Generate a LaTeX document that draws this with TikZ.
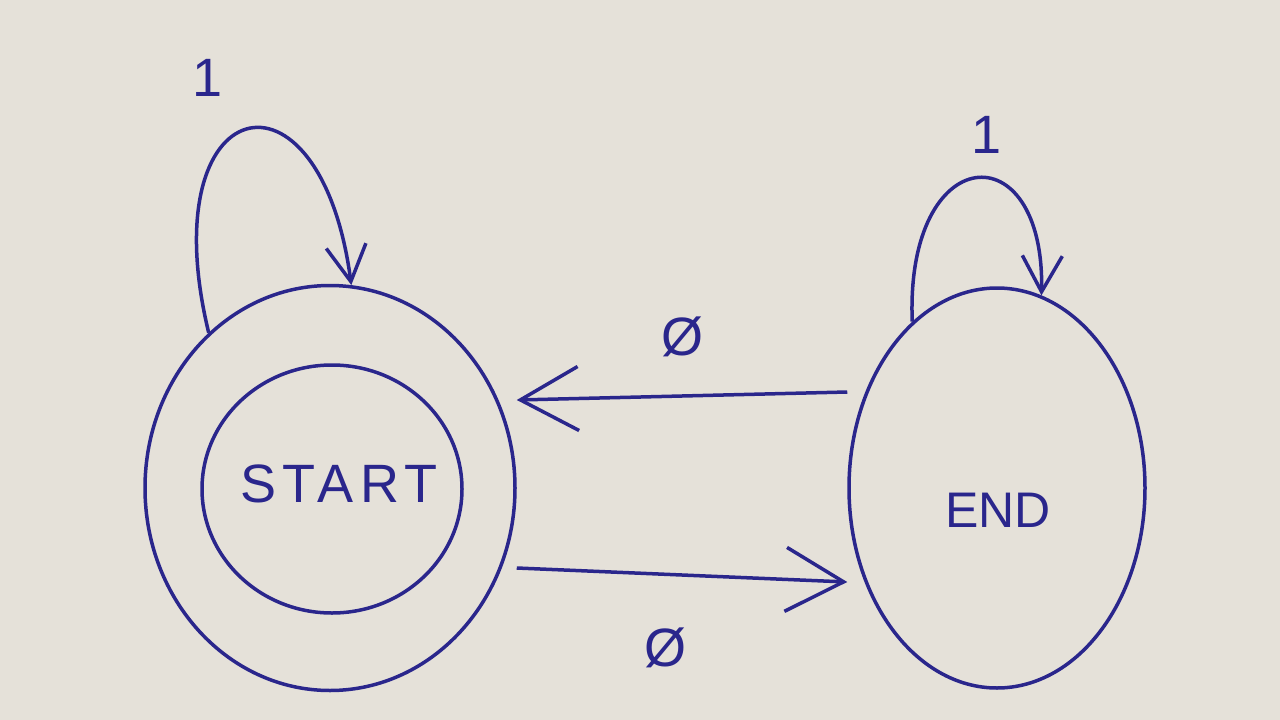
\documentclass[tikz,border=0pt]{standalone}
\usepackage{fontspec}
\setmainfont{Liberation Sans}
\usetikzlibrary{arrows.meta,shapes.geometric}
\definecolor{paper}{RGB}{229,225,217}
\definecolor{ink}{RGB}{42,38,140}
\tikzset{
  state/.style={draw=ink, line width=3.5pt, ellipse, inner sep=0pt},
  lbl/.style={text=ink, font=\fontsize{54}{58}\selectfont, inner sep=0pt},
  edge/.style={draw=ink, line width=3.5pt},
  bigtip/.style={-{Straight Barb[length=58pt,width=64pt,line width=3.5pt]}},
  looptip/.style={-{Straight Barb[length=36pt,width=40pt,line width=3.5pt]}}
}
\begin{document}
\begin{tikzpicture}[x=1pt,y=-1pt]
\fill[paper] (0,0) rectangle (1280,720);
\useasboundingbox (0,0) rectangle (1280,720);
% states
\node[state, minimum width=370pt, minimum height=405pt] (startout) at (330,488) {};
\node[state, minimum width=260pt, minimum height=248pt] (startin) at (332,489) {};
\node[lbl] (starttxt) at (339,484) {\addfontfeatures{LetterSpace=12}START};
\node[state, minimum width=296pt, minimum height=400pt] (endn) at (997,488) {};
\node[lbl, font=\fontsize{50}{54}\selectfont] (endtxt) at (998,510) {END};
% self loops
\draw[edge, looptip] (startout.128) .. controls (150,90) and (320,50) .. (startout.84);
\draw[edge, looptip] (endn.117) .. controls (905,140) and (1045,130) .. (endn.77);
% transitions
\draw[edge, bigtip] (endn.west |- 0,392) -- (startout.east |- 0,400);
\draw[edge, bigtip] (startout.east |- 0,568) -- (endn.west |- 0,582);
% labels
\node[lbl] (l1) at (208,78) {1};
\node[lbl] (l2) at (987,135) {1};
\node[lbl] (l3) at (682,337) {Ø};
\node[lbl] (l4) at (665,648) {Ø};
\end{tikzpicture}
\end{document}
